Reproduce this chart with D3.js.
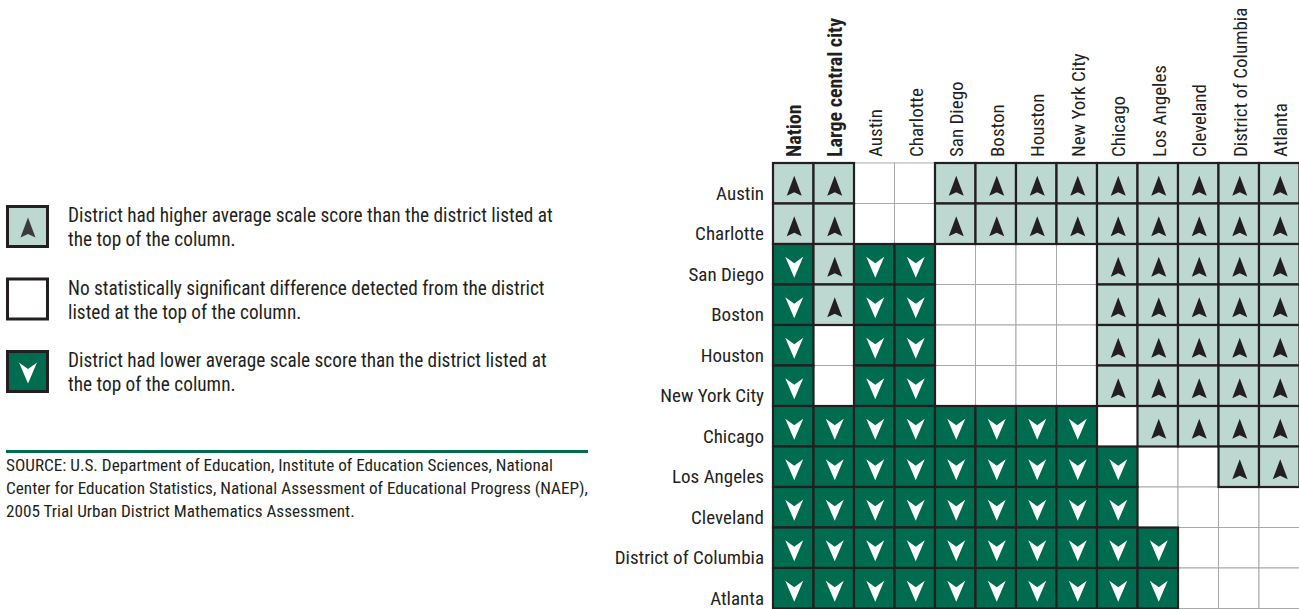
<!DOCTYPE html>
<html>
<head>
<meta charset="utf-8">
<script src="https://cdn.jsdelivr.net/npm/d3@7"></script>
<style>
  body { margin: 0; background: #fff; }
  svg text { font-family: 'Liberation Sans Narrow', 'Arial Narrow', 'Roboto Condensed', sans-serif; fill: #231f20; }
</style>
</head>
<body>
<svg id="chart"></svg>
<script>
// districts down the side and across the top
const rowDistricts = ["Austin", "Charlotte", "San Diego", "Boston", "Houston", "New York City",
  "Chicago", "Los Angeles", "Cleveland", "District of Columbia", "Atlanta"];
const colDistricts = ["Nation", "Large central city", "Austin", "Charlotte", "San Diego", "Boston",
  "Houston", "New York City", "Chicago", "Los Angeles", "Cleveland", "District of Columbia", "Atlanta"];
const boldCols = ["Nation", "Large central city"];

// H = higher, L = lower, . = no significant difference
const results = [
  "HH..HHHHHHHHH",
  "HH..HHHHHHHHH",
  "LHLL....HHHHH",
  "LHLL....HHHHH",
  "L.LL....HHHHH",
  "L.LL....HHHHH",
  "LLLLLLLL.HHHH",
  "LLLLLLLLL..HH",
  "LLLLLLLLL....",
  "LLLLLLLLLL...",
  "LLLLLLLLLL..."
];

const legendItems = [
  { code: "H", lines: ["District had higher average scale score than the district listed at", "the top of the column."] },
  { code: ".", lines: ["No statistically significant difference detected from the district", "listed at the top of the column."] },
  { code: "L", lines: ["District had lower average scale score than the district listed at", "the top of the column."] }
];
const sourceLines = [
  "SOURCE: U.S. Department of Education, Institute of Education Sciences, National",
  "Center for Education Statistics, National Assessment of Educational Progress (NAEP),",
  "2005 Trial Urban District Mathematics Assessment."
];

const width = 1299, height = 609;
const light = "#bcd8d0", dark = "#006c4f", ink = "#231f20", gridGray = "#a7a9ac";

const svg = d3.select("#chart").attr("width", width).attr("height", height);

const x = d3.scaleBand().domain(colDistricts).range([773, 1299.5]);
const y = d3.scaleBand().domain(rowDistricts).range([163, 608.5]);
const bw = x.bandwidth(), bh = y.bandwidth();

const cells = [];
results.forEach((r, i) => {
  r.split("").forEach((c, j) => {
    cells.push({ row: rowDistricts[i], col: colDistricts[j], code: c });
  });
});

// arrow shapes, centred on 0,0
const upArrow = "M0,-10 L7.5,10 L0,6.5 L-7.5,10 Z";
const downArrow = "M0,11 L9,-10 L0,-3.5 L-9,-10 Z";

const grid = svg.append("g").attr("class", "grid");

// light grid for every cell
grid.selectAll("rect.blank")
  .data(cells)
  .join("rect")
  .attr("class", "blank")
  .attr("x", d => x(d.col))
  .attr("y", d => y(d.row))
  .attr("width", bw)
  .attr("height", bh)
  .attr("fill", "#fff")
  .attr("stroke", gridGray)
  .attr("stroke-width", 1);

const filled = cells.filter(d => d.code !== ".");

grid.selectAll("rect.mark")
  .data(filled)
  .join("rect")
  .attr("class", "mark")
  .attr("x", d => x(d.col))
  .attr("y", d => y(d.row))
  .attr("width", bw)
  .attr("height", bh)
  .attr("fill", d => d.code === "H" ? light : dark)
  .attr("stroke", ink)
  .attr("stroke-width", 2.2);

grid.selectAll("path.arrow")
  .data(filled)
  .join("path")
  .attr("class", "arrow")
  .attr("transform", d => "translate(" + (x(d.col) + bw / 2 + 1) + "," + (y(d.row) + bh / 2 + 2.5) + ")")
  .attr("d", d => d.code === "H" ? upArrow : downArrow)
  .attr("fill", d => d.code === "H" ? ink : "#fff");

// row labels
svg.append("g").selectAll("text")
  .data(rowDistricts)
  .join("text")
  .attr("x", 764)
  .attr("y", d => y(d) + bh - 4)
  .attr("text-anchor", "end")
  .style("font-size", "19px")
  .text(d => d);

// column labels
svg.append("g").selectAll("text")
  .data(colDistricts)
  .join("text")
  .attr("transform", d => "translate(" + (x(d) + bw / 2 + 8) + ",157) rotate(-90)")
  .attr("text-anchor", "start")
  .style("font-size", d => boldCols.includes(d) ? "20px" : "19px")
  .style("font-weight", d => boldCols.includes(d) ? "bold" : "normal")
  .text(d => d);

// legend
const legend = svg.append("g").attr("class", "legend");
const ly = d3.scalePoint().domain(legendItems.map(d => d.code)).range([205, 350]);

const item = legend.selectAll("g")
  .data(legendItems)
  .join("g")
  .attr("transform", d => "translate(0," + ly(d.code) + ")");

item.append("rect")
  .attr("x", 7.5)
  .attr("y", 1.5)
  .attr("width", 40)
  .attr("height", 40)
  .attr("fill", d => d.code === "H" ? light : d.code === "L" ? dark : "#fff")
  .attr("stroke", ink)
  .attr("stroke-width", 3);

item.filter(d => d.code !== ".")
  .append("path")
  .attr("transform", "translate(28,22.5)")
  .attr("d", d => d.code === "H" ? upArrow : downArrow)
  .attr("fill", d => d.code === "H" ? "#3b3b3b" : "#fff");

item.each(function(d) {
  d3.select(this).selectAll("text")
    .data(d.lines)
    .join("text")
    .attr("x", 68)
    .attr("y", (t, i) => 17 + i * 24)
    .style("font-size", "19.3px")
    .text(t => t);
});

// source note
svg.append("line")
  .attr("x1", 6).attr("x2", 588)
  .attr("y1", 451.5).attr("y2", 451.5)
  .attr("stroke", dark)
  .attr("stroke-width", 3);

svg.append("g").selectAll("text")
  .data(sourceLines)
  .join("text")
  .attr("x", 6)
  .attr("y", (d, i) => 471 + i * 23)
  .style("font-size", "17.2px")
  .text(d => d);
</script>
</body>
</html>
